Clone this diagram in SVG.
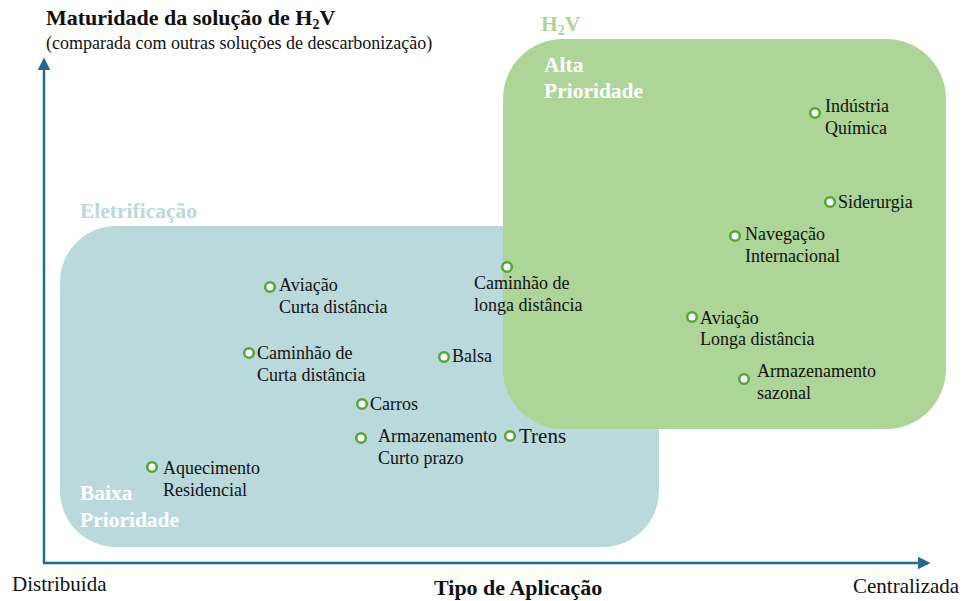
<svg xmlns="http://www.w3.org/2000/svg" width="965" height="601" viewBox="0 0 965 601">
<defs>
<style>
.dot{fill:#fff;stroke:#55A736;stroke-width:2.6}
.ax{stroke:#236A8E;stroke-width:2.5;fill:none}
</style>
<marker id="ar" viewBox="0 0 10 10" refX="8" refY="5" markerWidth="5" markerHeight="5" orient="auto">
<path d="M0,0 L10,5 L0,10 z" fill="#236A8E"/>
</marker>
</defs>
<rect width="965" height="601" fill="#fff"/>
<g id="eletrificacao" font-family="Liberation Serif, serif" font-size="21.5" font-weight="bold">
<rect x="60" y="226" width="599" height="321" rx="56" ry="56" fill="#B9D9DC"/>
<text x="80" y="218" fill="#B9D9DC">Eletrificação</text>
<text x="80" y="500" fill="#fff">Baixa</text>
<text x="80" y="527" fill="#fff">Prioridade</text>
</g>
<g id="h2v" font-family="Liberation Serif, serif" font-size="21.5" font-weight="bold">
<rect x="503" y="39" width="443" height="390" rx="60" ry="60" fill="#ADD597"/>
<text x="541" y="31" fill="#ADD597">H<tspan font-size="14" dy="4">2</tspan><tspan dy="-4">V</tspan></text>
<text x="544" y="72" fill="#fff">Alta</text>
<text x="544" y="98" fill="#fff">Prioridade</text>
</g>
<g id="connectors">
<line x1="44" y1="563" x2="44" y2="60" class="ax" marker-end="url(#ar)"/>
<line x1="43" y1="563" x2="928" y2="563" class="ax" marker-end="url(#ar)"/>
</g>
<g id="titulo" font-family="Liberation Serif, serif" fill="#111">
<text x="46" y="25" font-size="22" font-weight="bold">Maturidade da solução de H<tspan font-size="14" dy="4">2</tspan><tspan dy="-4">V</tspan></text>
<text x="46" y="49" font-size="18">(comparada com outras soluções de descarbonização)</text>
</g>
<g id="eixo-x" font-family="Liberation Serif, serif" fill="#111">
<text x="12" y="591" font-size="21">Distribuída</text>
<text x="434" y="595" font-size="22" font-weight="bold">Tipo de Aplicação</text>
<text x="853" y="593" font-size="21">Centralizada</text>
</g>
<g font-family="Liberation Serif, serif" font-size="18" fill="#111">
<g id="industria-quimica"><circle cx="815" cy="113" r="4.8" class="dot"/><text x="825" y="112">Indústria</text><text x="825" y="134">Química</text></g>
<g id="siderurgia"><circle cx="830" cy="202" r="4.8" class="dot"/><text x="838" y="208">Siderurgia</text></g>
<g id="navegacao"><circle cx="735" cy="236" r="4.8" class="dot"/><text x="745" y="240">Navegação</text><text x="745" y="262">Internacional</text></g>
<g id="aviacao-longa"><circle cx="692" cy="317" r="4.8" class="dot"/><text x="700" y="324">Aviação</text><text x="700" y="345">Longa distância</text></g>
<g id="armazenamento-sazonal"><circle cx="744" cy="379" r="4.8" class="dot"/><text x="757" y="377">Armazenamento</text><text x="757" y="399">sazonal</text></g>
<g id="caminhao-longa"><circle cx="507" cy="267" r="4.8" class="dot"/><text x="474" y="289">Caminhão de</text><text x="474" y="311">longa distância</text></g>
<g id="aviacao-curta"><circle cx="270" cy="287" r="4.8" class="dot"/><text x="279" y="291">Aviação</text><text x="279" y="313">Curta distância</text></g>
<g id="caminhao-curta"><circle cx="249" cy="353" r="4.8" class="dot"/><text x="257" y="359">Caminhão de</text><text x="257" y="381">Curta distância</text></g>
<g id="balsa"><circle cx="444" cy="357" r="4.8" class="dot"/><text x="452" y="362">Balsa</text></g>
<g id="carros"><circle cx="362" cy="404" r="4.8" class="dot"/><text x="370" y="410">Carros</text></g>
<g id="armazenamento-curto"><circle cx="361" cy="438" r="4.8" class="dot"/><text x="378" y="442">Armazenamento</text><text x="378" y="464">Curto prazo</text></g>
<g id="trens"><circle cx="510" cy="436" r="4.8" class="dot"/><text x="519" y="443" font-size="21">Trens</text></g>
<g id="aquecimento"><circle cx="152" cy="467" r="4.8" class="dot"/><text x="163" y="474">Aquecimento</text><text x="163" y="496">Residencial</text></g>
</g>
</svg>
